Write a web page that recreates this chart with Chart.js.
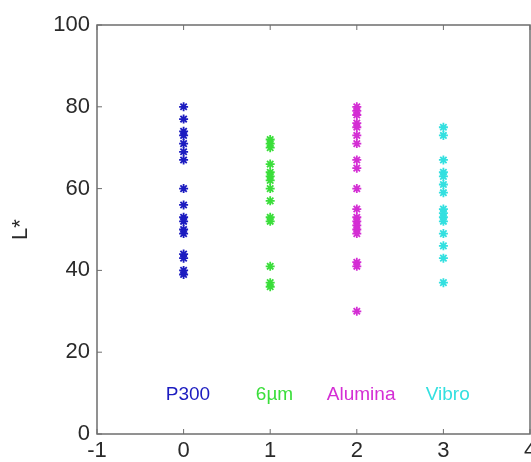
<!DOCTYPE html>
<html>
<head>
<meta charset="utf-8">
<script src="https://cdn.jsdelivr.net/npm/chart.js@4"></script>
<style>
  html, body { margin: 0; padding: 0; background: #fff; overflow: hidden; }
  #wrap { width: 531px; height: 462px; overflow: hidden; }
</style>
</head>
<body>
<div id="wrap"><canvas id="lChart" width="545" height="462"></canvas></div>
<script>
// groups and their L* values
const groups = ["P300", "6\u00b5m", "Alumina", "Vibro"];
const colors = ["#1c1cc0", "#3ade3a", "#d42ed4", "#33e0e0"];
const p300 = [80, 77, 74, 73, 71, 69, 67, 60, 56, 53, 52, 50, 49, 44, 43, 40, 39];
const sixum = [72, 71, 70, 66, 64, 63, 62, 60, 57, 53, 52, 41, 37, 36];
const alumina = [80, 79, 78, 76, 75, 73, 71, 67, 65, 60, 55, 53, 52, 51, 50, 49, 42, 41, 30];
const vibro = [75, 73, 67, 64, 63, 61, 59, 55, 54, 53, 52, 49, 46, 43, 37];
const yTicks = [0, 20, 40, 60, 80, 100];
const xTicks = [-1, 0, 1, 2, 3, 4];

const series = [p300, sixum, alumina, vibro];
const font = "'Liberation Sans', Arial, sans-serif";

// frame with inward ticks plus the group names inside the axes
const matlabAxes = {
  id: "matlabAxes",
  afterDraw(chart) {
    const ctx = chart.ctx, a = chart.chartArea;
    const xs = chart.scales.x, ys = chart.scales.y;
    ctx.save();
    ctx.strokeStyle = "#6e6e6e";
    ctx.lineWidth = 1.5;
    ctx.strokeRect(a.left, a.top, a.right - a.left, a.bottom - a.top);
    ctx.lineWidth = 1;
    xTicks.forEach(t => {
      const px = xs.getPixelForValue(t);
      ctx.beginPath(); ctx.moveTo(px, a.bottom); ctx.lineTo(px, a.bottom - 5); ctx.stroke();
      ctx.beginPath(); ctx.moveTo(px, a.top); ctx.lineTo(px, a.top + 5); ctx.stroke();
    });
    yTicks.forEach(t => {
      const py = ys.getPixelForValue(t);
      ctx.beginPath(); ctx.moveTo(a.left, py); ctx.lineTo(a.left + 5, py); ctx.stroke();
    });
    ctx.font = "19px " + font;
    ctx.textAlign = "center";
    ctx.textBaseline = "middle";
    groups.forEach((g, i) => {
      ctx.fillStyle = colors[i];
      ctx.fillText(g, xs.getPixelForValue(i + 0.05), ys.getPixelForValue(9.5));
    });
    ctx.restore();
  }
};

new Chart(document.getElementById("lChart"), {
  type: "scatter",
  data: {
    datasets: series.map((vals, i) => ({
      label: groups[i],
      data: vals.map(v => ({ x: i, y: v })),
      pointStyle: "star",
      pointRadius: 4.5,
      borderWidth: 1.8,
      borderColor: colors[i],
      backgroundColor: colors[i]
    }))
  },
  options: {
    responsive: false,
    animation: false,
    layout: { padding: { left: 0, top: 25, right: 15, bottom: 0 } },
    plugins: { legend: { display: false }, tooltip: { enabled: false } },
    scales: {
      x: {
        type: "linear",
        min: -1, max: 4,
        afterBuildTicks: s => { s.ticks = xTicks.map(v => ({ value: v })); },
        afterFit: s => { s.height = 28; },
        grid: { display: false, drawTicks: false },
        border: { display: false },
        ticks: { color: "#2a2a2a", font: { family: font, size: 22 }, padding: 4, maxRotation: 0 }
      },
      y: {
        min: 0, max: 100,
        afterBuildTicks: s => { s.ticks = yTicks.map(v => ({ value: v })); },
        afterFit: s => { s.width = 97; },
        grid: { display: false, drawTicks: false },
        border: { display: false },
        title: { display: true, text: "L*", color: "#2a2a2a", font: { family: font, size: 22 }, padding: { top: 8, bottom: 0 } },
        ticks: { color: "#2a2a2a", font: { family: font, size: 22 }, padding: 7 }
      }
    }
  },
  plugins: [matlabAxes]
});
</script>
</body>
</html>
